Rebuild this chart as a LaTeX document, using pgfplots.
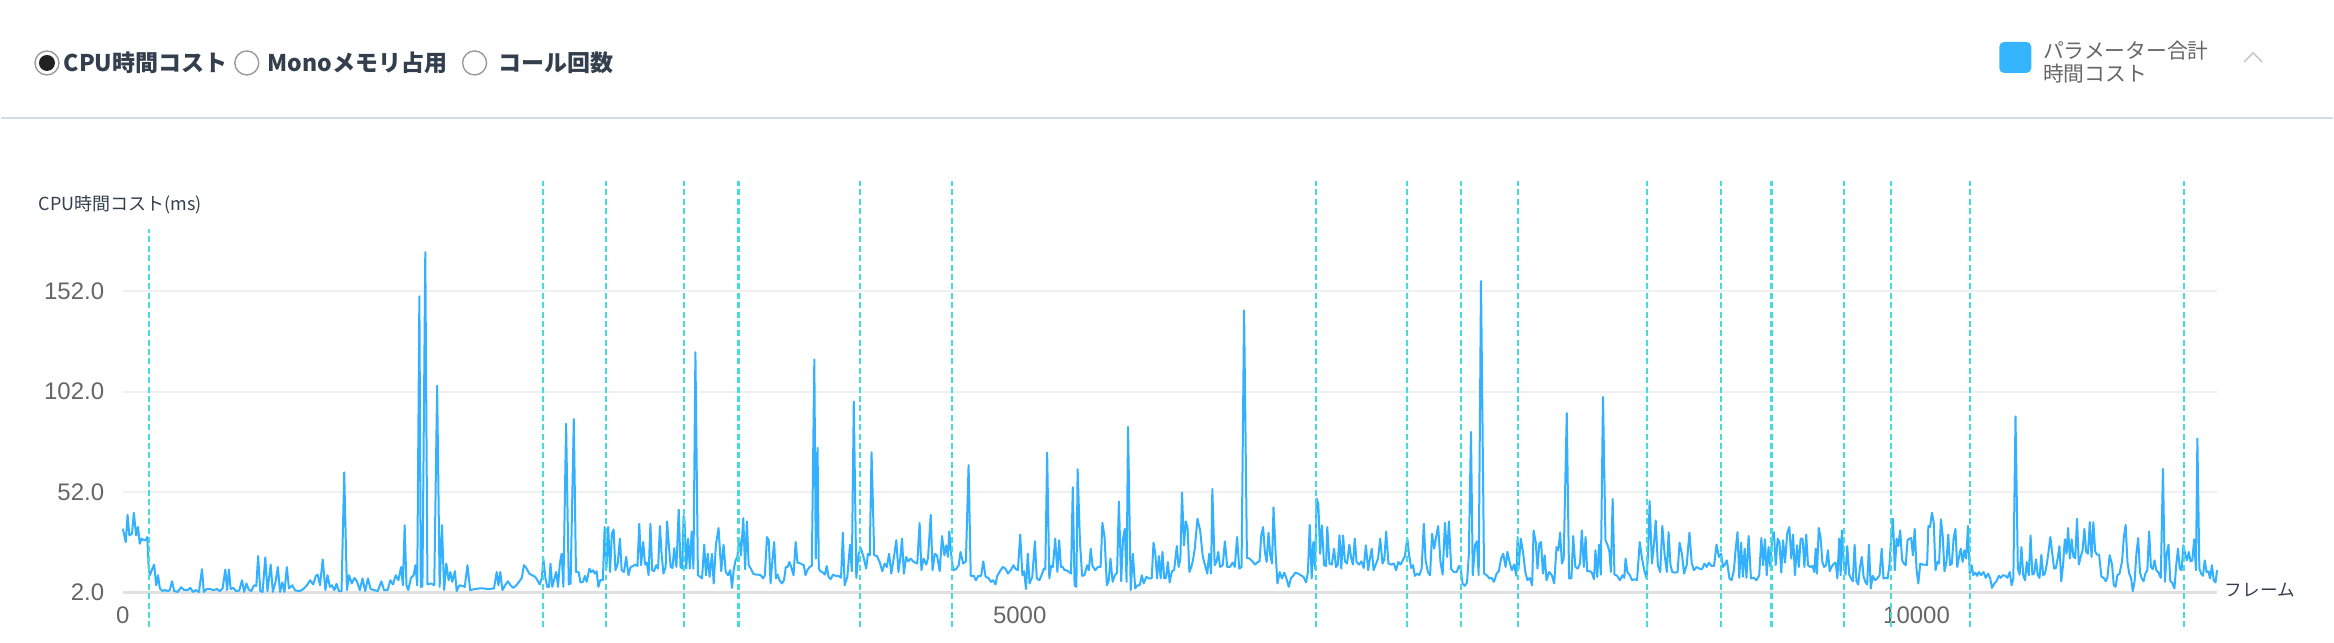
\documentclass[border=0pt]{standalone}
\usepackage{pgfplots}
\pgfplotsset{compat=1.18}
\usepackage{fontspec}
\setmainfont{Liberation Sans}
\newfontfamily\cjk{Noto Sans CJK JP}
\definecolor{linecol}{HTML}{33B0FF}
\definecolor{dashcol}{HTML}{45DCDC}
\definecolor{gridcol}{HTML}{F0F0F0}
\definecolor{basecol}{HTML}{E0E0E0}
\definecolor{tickcol}{HTML}{666666}
\definecolor{darktext}{HTML}{333F4D}
\definecolor{sepcol}{HTML}{D2DDE8}
\definecolor{legcol}{HTML}{35B5FE}
\definecolor{ringcol}{HTML}{9A9A9A}
\definecolor{chevcol}{HTML}{C8C8C8}

\pgfplotstableread{
x y
0 33.7
16 27.1
26 40.7
36 30.4
51 31.3
61 41.7
74 30.4
84 34.6
94 26.3
104 28.8
116 28.0
129 28.3
136 29.6
144 13.9
151 10.6
161 13.1
174 15.9
186 5.6
196 10.6
206 4.0
221 2.8
236 3.2
251 2.7
261 3.2
274 7.6
286 2.7
306 2.3
324 4.6
341 3.3
361 3.2
376 4.3
391 2.3
406 3.2
424 2.3
441 13.6
451 2.3
469 3.8
486 3.7
506 3.2
524 3.7
541 2.7
556 4.0
571 13.4
581 3.2
591 13.4
601 3.7
616 4.3
631 2.7
649 3.0
664 8.1
676 2.3
689 6.5
701 3.5
716 2.7
731 5.6
744 5.3
754 20.2
766 2.7
779 2.3
794 19.5
806 2.7
824 15.9
836 2.3
851 7.3
864 14.7
876 2.3
889 7.0
901 2.3
914 14.7
926 4.0
944 5.6
961 3.0
986 2.7
1006 3.7
1026 5.6
1044 8.1
1061 6.0
1076 10.3
1086 10.9
1099 5.6
1114 18.5
1129 3.2
1141 10.6
1154 4.8
1166 5.6
1179 3.2
1191 6.3
1204 2.7
1219 2.7
1234 61.8
1249 3.2
1261 10.6
1276 6.5
1291 9.3
1306 7.3
1321 3.2
1336 9.0
1351 2.7
1366 9.0
1381 3.7
1401 3.2
1421 2.7
1441 7.6
1456 3.2
1476 3.2
1491 8.1
1506 6.0
1521 10.6
1536 8.1
1551 14.7
1561 5.6
1571 35.5
1581 5.6
1591 3.2
1606 9.3
1621 10.6
1631 15.6
1641 5.6
1653 149.5
1661 4.8
1670 5.0
1686 171.4
1698 6.0
1718 6.5
1736 5.6
1752 104.9
1766 4.8
1779 35.5
1791 3.2
1803 16.4
1816 8.1
1826 12.2
1836 7.3
1851 12.6
1861 2.7
1876 5.6
1891 5.3
1906 4.8
1921 15.6
1936 3.2
1961 3.7
1986 4.0
2011 4.0
2036 3.7
2069 4.0
2084 12.2
2094 5.6
2104 12.2
2116 3.2
2131 5.6
2146 7.6
2161 5.6
2176 4.3
2194 5.6
2211 7.6
2224 9.3
2236 15.6
2249 14.2
2266 11.4
2281 10.6
2299 9.8
2311 8.1
2324 6.0
2336 9.3
2344 18.9
2356 9.0
2366 4.8
2376 4.8
2384 16.4
2394 4.8
2406 9.0
2416 12.2
2426 4.8
2436 16.4
2446 21.3
2456 4.8
2471 86.0
2486 6.0
2496 6.5
2514 88.3
2526 12.2
2541 12.2
2551 7.0
2566 7.3
2576 10.3
2586 7.3
2601 13.9
2611 12.2
2621 13.1
2631 11.4
2641 12.6
2651 4.8
2661 8.1
2676 8.1
2686 34.6
2696 13.9
2706 34.6
2716 12.2
2726 31.3
2736 33.4
2746 13.1
2759 16.4
2771 28.8
2781 13.1
2794 12.2
2806 19.7
2819 10.6
2831 14.7
2844 15.1
2856 15.9
2869 15.2
2879 36.2
2889 15.6
2901 27.1
2911 15.9
2921 16.9
2931 10.6
2941 36.2
2951 13.1
2961 12.6
2974 15.6
2984 13.9
2994 35.1
3004 20.5
3014 11.4
3026 14.7
3034 37.4
3044 25.5
3054 14.7
3064 14.2
3074 24.1
3086 14.7
3099 43.3
3109 14.7
3119 13.9
3126 40.0
3131 37.9
3141 13.9
3151 28.8
3161 13.9
3171 32.4
3181 13.9
3192 121.6
3206 10.6
3219 9.8
3229 9.0
3241 25.8
3251 10.6
3261 21.3
3271 9.8
3284 21.3
3294 6.5
3306 25.5
3321 34.1
3336 12.6
3349 25.8
3361 12.2
3374 10.6
3386 13.1
3396 4.3
3406 13.6
3416 18.0
3426 19.7
3436 28.8
3446 20.5
3459 39.0
3469 13.6
3479 37.4
3489 15.6
3501 13.9
3514 11.4
3529 10.9
3541 10.9
3556 10.6
3569 9.0
3579 10.6
3591 29.6
3601 28.0
3611 6.5
3621 18.0
3631 27.1
3641 9.0
3651 10.9
3661 8.1
3674 6.5
3686 8.1
3696 14.7
3706 14.7
3716 17.2
3726 14.7
3739 10.6
3751 27.1
3761 16.9
3779 16.4
3796 15.6
3806 10.6
3816 13.1
3829 14.7
3841 15.2
3855 118.0
3863 18.9
3873 74.0
3880 13.9
3889 12.6
3904 11.9
3914 10.9
3924 15.2
3934 9.8
3946 8.6
3959 10.9
3974 10.3
3989 10.3
4004 9.3
4014 31.8
4024 5.6
4039 9.8
4054 25.8
4064 12.6
4075 97.0
4089 9.3
4101 20.8
4114 24.1
4129 19.7
4144 13.9
4154 21.3
4164 20.5
4174 71.8
4189 20.5
4204 20.2
4219 17.2
4234 12.6
4247 16.4
4259 14.7
4272 21.3
4284 11.4
4299 19.7
4312 28.0
4324 12.2
4334 18.9
4344 28.8
4354 11.4
4367 19.7
4379 17.5
4392 18.9
4409 17.2
4429 16.4
4442 36.6
4452 13.1
4464 18.9
4479 15.9
4489 19.2
4504 40.6
4514 13.1
4527 21.3
4539 20.5
4554 12.6
4567 30.1
4580 20.5
4590 25.5
4600 19.7
4607 32.4
4620 18.9
4630 13.1
4645 13.6
4660 15.6
4670 22.2
4685 16.4
4700 17.5
4715 65.4
4727 10.3
4745 10.3
4755 8.1
4770 10.3
4785 10.3
4797 17.5
4810 9.8
4825 9.3
4840 7.3
4852 8.1
4865 6.0
4875 10.3
4890 12.6
4905 14.7
4920 13.9
4935 11.4
4950 13.1
4965 15.6
4975 13.9
4990 13.1
5003 30.8
5015 10.6
5025 12.6
5035 3.7
5045 21.3
5055 6.5
5070 9.8
5085 27.5
5095 9.0
5110 8.1
5123 10.9
5135 13.9
5143 13.6
5153 71.7
5165 9.0
5175 15.2
5185 14.7
5198 28.8
5210 12.2
5220 28.0
5230 14.7
5240 14.7
5250 13.1
5260 13.1
5275 12.2
5286 11.4
5296 54.4
5306 5.6
5316 4.8
5323 63.4
5336 27.1
5348 10.3
5361 10.6
5376 15.6
5386 13.1
5396 23.8
5406 15.2
5421 13.1
5436 14.7
5451 14.7
5461 36.7
5473 29.6
5486 5.6
5496 7.6
5506 18.9
5518 7.3
5531 10.6
5543 11.9
5553 47.3
5566 7.6
5576 28.8
5586 33.7
5596 7.3
5604 84.4
5619 3.2
5631 21.3
5644 4.0
5656 5.6
5669 5.6
5681 10.6
5691 6.5
5706 9.8
5721 9.0
5736 9.0
5746 26.8
5756 21.3
5766 9.0
5776 20.2
5786 9.0
5796 22.2
5806 9.0
5816 9.3
5826 17.2
5836 7.0
5849 12.6
5861 13.1
5876 25.1
5886 14.7
5896 18.9
5905 51.8
5916 25.5
5926 37.4
5936 34.1
5946 12.2
5957 14.7
5966 18.0
5976 23.8
5991 38.7
6006 32.9
6021 19.7
6036 14.7
6046 11.4
6056 21.3
6067 11.4
6074 53.5
6087 15.6
6097 17.2
6107 22.2
6117 14.7
6132 15.6
6144 27.5
6157 14.7
6172 14.7
6187 16.9
6199 14.7
6212 29.6
6224 13.9
6237 14.7
6251 142.4
6267 19.2
6282 18.9
6297 17.5
6312 15.9
6327 17.2
6337 17.5
6347 30.4
6357 34.6
6367 22.2
6377 17.2
6387 31.8
6397 20.5
6407 16.4
6415 44.4
6427 21.3
6437 6.5
6450 12.2
6462 9.0
6475 11.9
6487 9.0
6500 4.8
6512 9.0
6527 10.6
6537 11.9
6552 11.4
6567 10.6
6582 9.8
6597 7.0
6607 12.2
6617 35.7
6628 9.0
6637 27.1
6647 13.9
6655 48.8
6665 46.1
6675 21.3
6685 35.4
6697 15.6
6708 15.2
6715 34.6
6727 16.4
6740 15.9
6753 23.8
6763 14.7
6773 15.6
6783 30.4
6793 13.9
6803 30.4
6813 17.5
6825 16.4
6838 25.8
6848 19.2
6858 15.9
6868 28.8
6878 17.2
6893 15.9
6905 17.5
6918 14.2
6930 25.5
6943 13.1
6953 19.2
6963 23.8
6973 13.1
6985 15.9
6998 18.9
7010 28.8
7023 16.4
7033 18.5
7043 32.4
7056 16.4
7071 15.9
7086 16.4
7098 13.1
7111 17.2
7123 15.9
7136 18.0
7148 20.2
7161 29.1
7171 20.5
7183 14.2
7193 15.6
7203 10.3
7216 11.4
7228 10.6
7241 13.9
7253 36.2
7263 18.0
7276 12.2
7288 10.6
7299 31.3
7311 23.8
7323 30.4
7333 35.1
7346 17.2
7358 10.9
7371 36.7
7383 19.7
7393 37.4
7406 13.6
7421 12.2
7436 12.2
7449 15.2
7459 13.6
7469 6.5
7481 5.3
7494 7.0
7504 20.5
7516 81.9
7526 10.6
7539 25.8
7549 27.5
7559 10.6
7572 157.0
7589 11.4
7604 10.6
7619 9.0
7631 9.3
7644 7.3
7659 11.4
7671 12.6
7684 18.9
7696 21.3
7709 14.7
7719 22.2
7732 16.9
7744 13.1
7756 15.9
7769 10.3
7776 29.6
7781 13.9
7794 28.8
7806 22.2
7819 12.2
7831 8.1
7844 9.3
7857 5.6
7865 32.9
7877 27.1
7887 13.9
7897 26.3
7907 27.1
7917 11.4
7927 20.5
7937 8.1
7952 12.2
7967 10.6
7980 6.5
7993 24.6
8003 23.0
8013 31.8
8023 16.4
8033 18.9
8050 91.3
8063 9.0
8076 9.0
8086 30.1
8098 14.7
8111 13.9
8124 16.4
8134 32.9
8145 14.7
8155 29.6
8164 12.6
8177 12.6
8190 11.9
8202 8.6
8210 23.0
8220 9.8
8230 25.8
8240 10.9
8252 99.4
8266 28.0
8278 25.5
8288 22.2
8296 12.2
8306 48.6
8316 10.9
8331 10.3
8346 8.1
8361 10.6
8371 9.3
8378 18.9
8388 12.2
8402 10.6
8414 8.1
8427 8.6
8442 8.1
8457 27.1
8469 19.2
8482 13.1
8495 9.0
8504 22.2
8512 47.5
8525 16.4
8536 25.8
8546 37.9
8558 15.6
8571 12.2
8583 35.1
8596 20.5
8608 12.2
8618 32.0
8628 15.9
8638 12.2
8653 11.9
8668 12.2
8679 26.8
8692 21.3
8704 11.4
8719 15.9
8734 31.8
8747 16.4
8759 13.1
8774 14.7
8789 13.9
8804 13.6
8818 16.4
8830 14.7
8843 16.9
8856 15.2
8871 15.2
8885 25.8
8898 19.7
8911 21.3
8921 14.7
8931 15.9
8943 18.0
8957 9.0
8969 8.1
8982 13.1
8992 23.8
9002 32.0
9012 9.3
9022 26.8
9032 9.8
9042 23.8
9052 9.3
9064 30.1
9077 9.0
9093 9.3
9108 8.1
9123 10.6
9135 29.1
9145 15.6
9155 28.5
9165 10.6
9175 24.6
9185 14.7
9195 28.8
9205 32.0
9215 15.6
9226 28.8
9236 27.1
9246 11.9
9256 28.0
9267 16.9
9279 31.3
9291 34.6
9302 18.9
9312 30.8
9322 10.6
9334 25.5
9344 14.7
9354 28.8
9365 28.8
9375 14.7
9385 30.8
9395 15.6
9408 14.7
9420 15.2
9430 12.2
9438 23.8
9445 11.4
9455 34.1
9465 29.6
9475 17.2
9485 14.7
9496 15.6
9506 23.0
9516 12.6
9526 14.7
9539 16.4
9549 16.9
9559 9.0
9569 28.8
9577 10.6
9584 32.9
9594 17.2
9604 10.9
9614 25.1
9625 10.9
9635 9.0
9645 7.6
9655 25.8
9665 7.6
9675 6.0
9685 14.7
9695 19.7
9705 9.8
9715 7.3
9725 6.0
9735 25.8
9745 4.0
9756 10.3
9769 8.1
9781 9.0
9794 10.6
9806 23.8
9816 9.0
9829 9.3
9839 9.0
9849 15.6
9859 29.6
9869 38.7
9879 13.1
9889 28.8
9899 25.1
9909 32.9
9920 18.0
9930 16.4
9940 15.6
9950 28.0
9960 28.8
9970 29.1
9980 20.5
9990 33.7
10000 13.9
10010 6.5
10021 16.4
10034 15.9
10046 15.9
10059 15.6
10066 35.1
10076 34.6
10086 41.7
10096 37.0
10106 13.1
10116 17.2
10126 16.4
10136 38.4
10146 30.4
10156 12.6
10167 17.2
10177 30.8
10187 15.6
10197 16.4
10207 29.1
10217 33.7
10227 14.7
10237 19.7
10247 23.8
10257 17.2
10267 23.0
10277 18.9
10287 35.1
10297 11.4
10307 15.6
10317 10.6
10328 11.9
10338 10.3
10348 12.2
10360 10.6
10374 12.2
10386 9.3
10399 11.4
10411 9.0
10421 4.3
10434 6.5
10446 7.6
10459 10.3
10469 9.3
10482 10.6
10495 10.3
10507 9.3
10520 12.2
10530 5.6
10540 9.0
10552 89.7
10565 13.9
10575 10.9
10585 24.6
10595 10.6
10605 8.1
10615 17.2
10626 10.6
10636 30.4
10646 10.9
10656 11.4
10666 18.5
10676 10.6
10686 9.3
10696 20.8
10706 10.6
10716 11.4
10726 15.9
10736 22.2
10746 29.6
10756 22.2
10767 13.9
10777 14.2
10787 18.9
10797 25.1
10807 7.6
10817 15.6
10827 28.5
10837 21.3
10845 34.1
10855 18.9
10865 28.5
10875 19.7
10885 19.2
10895 38.7
10905 15.9
10915 19.7
10926 23.0
10936 33.7
10946 22.2
10956 21.3
10966 37.0
10976 19.7
10986 37.0
10996 22.5
11006 20.8
11018 20.8
11031 9.8
11044 9.3
11055 7.6
11064 9.3
11077 20.5
11090 15.9
11100 5.6
11110 4.8
11120 10.6
11132 11.4
11146 17.5
11156 29.6
11166 35.7
11176 17.2
11186 11.4
11196 9.3
11206 2.7
11216 7.6
11226 21.3
11236 29.1
11246 11.9
11256 9.0
11266 7.6
11276 11.4
11287 13.1
11297 32.4
11307 14.7
11317 13.6
11327 18.0
11337 13.1
11349 11.9
11362 9.3
11374 63.5
11385 7.3
11395 21.3
11405 25.8
11415 7.6
11425 7.0
11438 4.0
11448 15.6
11458 23.8
11468 13.9
11478 13.1
11488 25.5
11498 21.3
11508 18.0
11518 22.2
11528 17.5
11538 18.0
11548 28.5
11558 13.1
11566 78.6
11577 13.9
11587 11.4
11597 10.3
11607 18.0
11617 12.2
11627 12.6
11637 9.0
11647 15.6
11657 8.1
11667 7.0
11676 13.1
}\cpudata

\begin{document}
\begin{tikzpicture}
\path (0,0) rectangle (583.5pt,-160.75pt);
\begin{scope}[x=0.25pt,y=-0.25pt]
  % separator
  \draw[sepcol, line width=0.5pt] (0,118) -- (2334,118);
  % radio buttons
  \draw[ringcol, line width=0.35pt, fill=white] (46,63) circle (12);
  \fill[black!87] (46,63) circle (8);
  \draw[ringcol, line width=0.35pt, fill=white] (246,63) circle (12);
  \draw[ringcol, line width=0.35pt, fill=white] (474,63) circle (12);
  \node[anchor=west, inner sep=0pt, text=darktext] at (62,63) {\cjk\bfseries\fontsize{5.75}{6.9}\selectfont CPU時間コスト};
  \node[anchor=west, inner sep=0pt, text=darktext] at (266,63) {\cjk\bfseries\fontsize{5.75}{6.9}\selectfont Monoメモリ占用};
  \node[anchor=west, inner sep=0pt, text=darktext] at (497,63) {\cjk\bfseries\fontsize{5.75}{6.9}\selectfont コール回数};
  % legend
  \fill[legcol, rounded corners=1.2pt] (2000,42) rectangle (2032,73);
  \node[anchor=west, inner sep=0pt, text=tickcol] at (2043,51) {\cjk\fontsize{5.2}{6.2}\selectfont パラメーター合計};
  \node[anchor=west, inner sep=0pt, text=tickcol] at (2043,74) {\cjk\fontsize{5.2}{6.2}\selectfont 時間コスト};
  \draw[chevcol, line width=0.4pt] (2245,62) -- (2254,53) -- (2263,62);
  % axis names
  \node[anchor=west, inner sep=0pt, text=darktext] at (37,205) {\cjk\fontsize{4.5}{5.4}\selectfont CPU時間コスト(ms)};
  \node[anchor=west, inner sep=0pt, text=darktext] at (2225,591) {\cjk\fontsize{4.4}{5.3}\selectfont フレーム};
\end{scope}
\begin{axis}[
  at={(30.5pt,-148.25pt)}, anchor=south west,
  scale only axis, width=524pt, height=103pt,
  xmin=0, xmax=11676, ymin=2, ymax=206.9,
  clip=false,
  scaled x ticks=false, scaled y ticks=false,
  axis line style={draw=none},
  tick style={draw=none},
  xtick={0,5000,10000}, xticklabels={0,5000,10000},
  ytick={2,52,102,152}, yticklabels={2.0,52.0,102.0,152.0},
  ymajorgrids, major grid style={gridcol, line width=0.5pt},
  xticklabel style={anchor=north, inner sep=0pt, yshift=-3.4pt, text=tickcol, font=\fontsize{6}{7}\selectfont},
  yticklabel style={anchor=east, inner sep=0pt, xshift=-4.5pt, text=tickcol, font=\fontsize{6}{7}\selectfont},
]
\addplot[basecol, line width=0.6pt, forget plot] coordinates {(0,2) (11676,2)};
\addplot[linecol, line width=0.5pt, line join=round, mark=none] table[x=x,y=y] {\cpudata};
\addplot[dashcol, line width=0.55pt, dash pattern=on 1.5pt off 0.85pt, forget plot] coordinates {(147,-15.4) (147,183)};
\pgfplotsinvokeforeach{2342,2692,3130,3432,4108,4621,6652,7158,7459,7777,8498,8911,9192,9597,9858,10298,11491}{
  \addplot[dashcol, line width=0.55pt, dash pattern=on 1.5pt off 0.85pt, forget plot] coordinates {(#1,-15.4) (#1,206.9)};
}
\end{axis}
\end{tikzpicture}
\end{document}
